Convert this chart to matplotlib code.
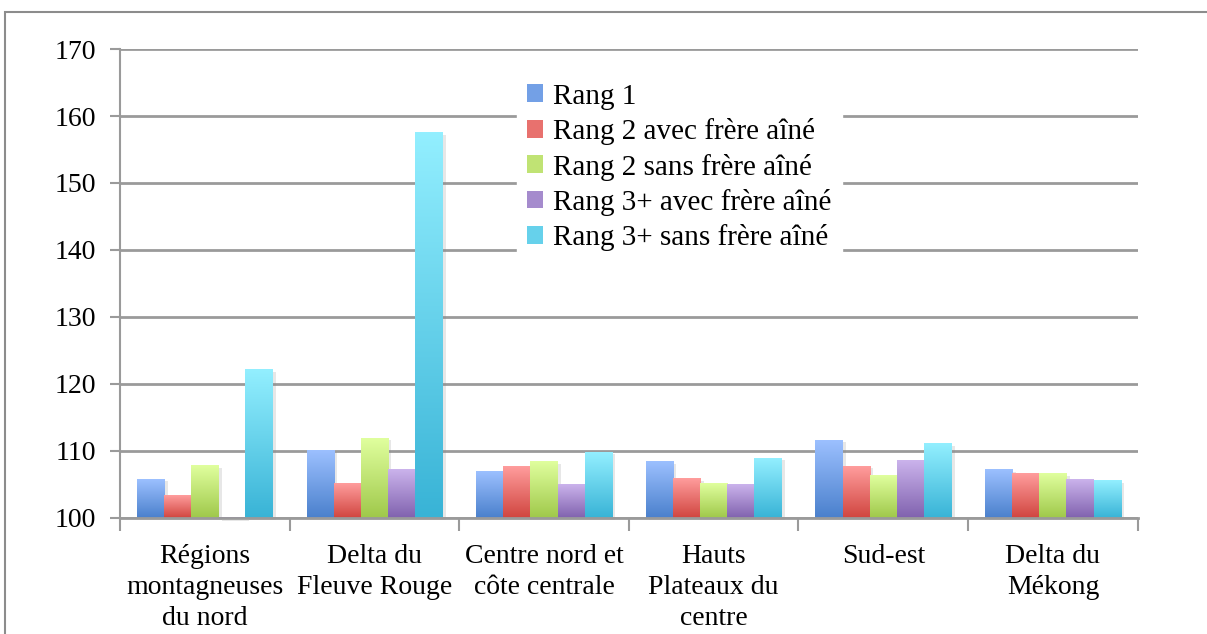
import numpy as np
import matplotlib.pyplot as plt
from matplotlib.patches import Rectangle
from matplotlib.colors import LinearSegmentedColormap, to_rgb
import matplotlib.patheffects as pe

plt.rcParams['font.family'] = ['Liberation Serif', 'DejaVu Serif']

# Régions et séries
regions = ["Régions\nmontagneuses\ndu nord", "Delta du\nFleuve Rouge",
           "Centre nord et\ncôte centrale", "Hauts\nPlateaux du\ncentre",
           "Sud-est", "Delta du\nMékong"]
series = ["Rang 1", "Rang 2 avec frère aîné", "Rang 2 sans frère aîné",
          "Rang 3+ avec frère aîné", "Rang 3+ sans frère aîné"]

rang1 = [105.8, 110.1, 106.9, 108.4, 111.6, 107.2]
rang2_avec = [103.3, 105.1, 107.7, 105.9, 107.7, 106.6]
rang2_sans = [107.8, 111.9, 108.4, 105.2, 106.3, 106.6]
rang3_avec = [99.8, 107.3, 105.0, 105.0, 108.6, 105.7]
rang3_sans = [122.1, 157.5, 109.8, 108.9, 111.1, 105.6]

valeurs = [rang1, rang2_avec, rang2_sans, rang3_avec, rang3_sans]

# dégradés (haut clair -> bas foncé)
degrades = [("#9cc0ff", "#4a80cc"),
            ("#ff9d9d", "#d0453f"),
            ("#e0ff9e", "#9fc84a"),
            ("#cbb3ec", "#8062ae"),
            ("#93efff", "#38b3d6")]

fig = plt.figure(figsize=(12.07, 6.34), dpi=100)
ax = fig.add_axes([0.0994, 0.183, 0.8432, 0.7397])

base = 100
x = np.arange(len(regions))
w = 0.16
ombre = [pe.SimplePatchShadow(offset=(2.5, -1.5), shadow_rgbFace='#888888', alpha=0.2),
         pe.Normal()]
for i, (vals, (c_haut, c_bas)) in enumerate(zip(valeurs, degrades)):
    pos = x + (i - 2) * w
    bars = ax.bar(pos, np.array(vals) - base, w, bottom=base,
                  color=c_bas, label=series[i], zorder=3, clip_on=False,
                  path_effects=ombre)
    cmap = LinearSegmentedColormap.from_list("g%d" % i, [c_bas, c_haut])
    grad = np.linspace(0, 1, 256).reshape(-1, 1)
    for b in bars:
        x0, y0 = b.get_x(), b.get_y()
        x1, y1 = x0 + b.get_width(), y0 + b.get_height()
        ax.imshow(grad if y1 >= y0 else grad[::-1], cmap=cmap, origin='lower',
                  aspect='auto', extent=[x0, x1, min(y0, y1), max(y0, y1)],
                  zorder=3.5, clip_on=False)

ax.set_xlim(-0.5, len(regions) - 0.5)
ax.set_ylim(100, 170)
ax.set_yticks(np.arange(100, 171, 10))
ax.yaxis.grid(True, color='#9a9a9a', linewidth=2, zorder=0)
ax.set_axisbelow(True)

for s in ['top', 'right']:
    ax.spines[s].set_visible(False)
ax.spines['left'].set_color('#9a9a9a')
ax.spines['left'].set_linewidth(1.5)
ax.spines['bottom'].set_color('#9a9a9a')
ax.spines['bottom'].set_linewidth(2)
ax.spines['bottom'].set_zorder(4)

ax.set_xticks(np.arange(-0.5, len(regions), 1))
ax.set_xticklabels([])
ax.set_xticks(x, minor=True)
ax.set_xticklabels(regions, minor=True, fontsize=20, linespacing=1.3)
ax.tick_params(axis='x', which='major', length=9, width=1.5, color='#9a9a9a')
ax.tick_params(axis='x', which='minor', length=0, pad=19)
ax.tick_params(axis='y', length=7, width=1.5, color='#9a9a9a', labelsize=20, pad=10)

leg = ax.legend(loc='upper left', bbox_to_anchor=(0.39, 0.948), fontsize=21,
                frameon=True, fancybox=False, framealpha=1, edgecolor='white',
                handlelength=0.55, handleheight=0.55, handletextpad=0.35,
                labelspacing=0.29, borderpad=0.35, borderaxespad=0)
leg.set_zorder(5)
for h, (c_haut, c_bas) in zip(leg.legend_handles, degrades):
    h.set_path_effects([])
    h.set_facecolor(0.5 * np.array(to_rgb(c_haut)) + 0.5 * np.array(to_rgb(c_bas)))

# cadre extérieur
fig.patches.append(Rectangle((0.004, -0.1), 1.1, 1.081, transform=fig.transFigure,
                             fill=False, edgecolor='#8c8c8c', linewidth=1.5))

fig.savefig("out.png", dpi=100)
